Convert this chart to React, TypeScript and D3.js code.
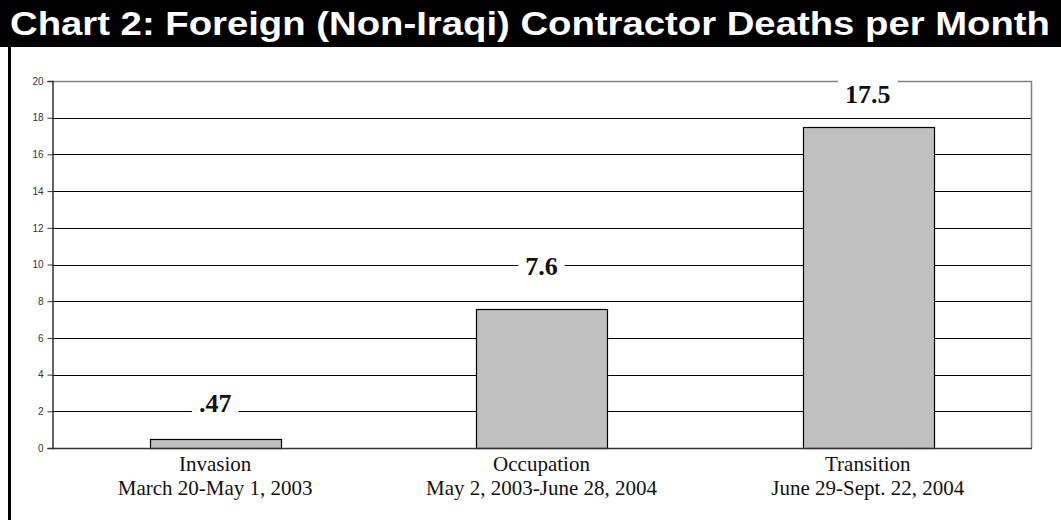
import React, { useEffect, useRef } from 'react';
import * as d3 from 'd3';

const title = 'Chart 2: Foreign (Non-Iraqi) Contractor Deaths per Month';
const categories = ['Invasion', 'Occupation', 'Transition'];
const periods = ['March 20-May 1, 2003', 'May 2, 2003-June 28, 2004', 'June 29-Sept. 22, 2004'];
const deathsPerMonth = [0.47, 7.6, 17.5];
const valueLabels = ['.47', '7.6', '17.5'];
// axis level (in deaths) where each value label's baseline sits in the picture
const labelLevels = [1.95, 9.45, 18.8];
const yTicks = [0, 2, 4, 6, 8, 10, 12, 14, 16, 18, 20];

export default function App() {
  const svgRef = useRef<SVGSVGElement>(null);

  useEffect(() => {
    if (!svgRef.current) return;
    const width = 1061;
    const height = 520;
    const margin = { top: 81, right: 30, bottom: 72, left: 52 };

    const svg = d3.select(svgRef.current);
    svg.selectAll('*').remove();
    svg.attr('width', width).attr('height', height).attr('viewBox', `0 0 ${width} ${height}`);

    svg.append('rect').attr('width', width).attr('height', height).attr('fill', 'white');

    // title band
    svg.append('rect').attr('x', 0).attr('y', 0).attr('width', width).attr('height', 47).attr('fill', 'black');
    svg.append('text')
      .attr('x', 10)
      .attr('y', 35)
      .attr('fill', 'white')
      .attr('font-family', '"Liberation Sans Narrow", "Liberation Sans", Arial, sans-serif')
      .attr('font-weight', 'bold')
      .attr('font-size', 33)
      .attr('textLength', 1040)
      .attr('lengthAdjust', 'spacingAndGlyphs')
      .text(title);

    // left frame line
    svg.append('rect').attr('x', 8).attr('y', 47).attr('width', 3).attr('height', height - 47).attr('fill', 'black');

    const x = d3.scaleBand<string>()
      .domain(categories)
      .range([margin.left, width - margin.right])
      .paddingInner(0.6)
      .paddingOuter(0.3);

    const y = d3.scaleLinear()
      .domain([0, 20])
      .range([height - margin.bottom, margin.top]);

    const x0 = margin.left;
    const x1 = width - margin.right;

    // gridlines
    svg.append('g')
      .selectAll('line')
      .data(yTicks.filter(t => t > 0 && t < 20))
      .join('line')
      .attr('x1', x0)
      .attr('x2', x1)
      .attr('y1', d => Math.round(y(d)) + 0.5)
      .attr('y2', d => Math.round(y(d)) + 0.5)
      .attr('stroke', 'black')
      .attr('stroke-width', 1);

    // plot border (top & right, gray)
    svg.append('path')
      .attr('d', `M${x0},${Math.round(y(20)) + 0.5}H${x1 + 0.5}V${Math.round(y(0))}`)
      .attr('fill', 'none')
      .attr('stroke', '#808080')
      .attr('stroke-width', 1.5);

    // bars
    svg.append('g')
      .selectAll('rect')
      .data(deathsPerMonth)
      .join('rect')
      .attr('x', (d, i) => Math.round(x(categories[i])!) + 0.5)
      .attr('y', d => Math.round(y(d)) + 0.5)
      .attr('width', Math.round(x.bandwidth()))
      .attr('height', d => Math.round(y(0)) - Math.round(y(d)))
      .attr('fill', '#c0c0c0')
      .attr('stroke', 'black')
      .attr('stroke-width', 1.2);

    // axes
    const yAxis = svg.append('g')
      .attr('transform', `translate(${x0 + 0.5},0)`)
      .call(d3.axisLeft(y).tickValues(yTicks).tickSize(5).tickPadding(4).tickFormat(d3.format('d')));
    yAxis.select('.domain').attr('stroke', '#333').attr('stroke-width', 1.5);
    yAxis.selectAll('.tick line').attr('stroke', '#333');
    yAxis.selectAll('.tick text')
      .attr('fill', '#333')
      .attr('font-family', '"Liberation Sans", Arial, sans-serif')
      .attr('font-size', 10);

    svg.append('line')
      .attr('x1', x0)
      .attr('x2', x1 + 1)
      .attr('y1', Math.round(y(0)) + 0.5)
      .attr('y2', Math.round(y(0)) + 0.5)
      .attr('stroke', '#333')
      .attr('stroke-width', 1.5);

    // category labels
    const cat = svg.append('g')
      .attr('font-family', '"Liberation Serif", "Times New Roman", serif')
      .attr('font-size', 21)
      .attr('text-anchor', 'middle')
      .attr('fill', '#111');
    categories.forEach((c, i) => {
      const cx = x(c)! + x.bandwidth() / 2;
      cat.append('text').attr('x', cx).attr('y', y(0) + 23).text(c);
      cat.append('text').attr('x', cx).attr('y', y(0) + 47).text(periods[i]);
    });

    // value labels with white knock-out box
    const labels = svg.append('g');
    valueLabels.forEach((lab, i) => {
      const cx = x(categories[i])! + x.bandwidth() / 2;
      const g = labels.append('g');
      const box = g.append('rect').attr('fill', 'white');
      const t = g.append('text')
        .attr('x', cx)
        .attr('y', y(labelLevels[i]))
        .attr('text-anchor', 'middle')
        .attr('font-family', '"Liberation Serif", "Times New Roman", serif')
        .attr('font-weight', 'bold')
        .attr('font-size', 26)
        .attr('fill', '#111')
        .text(lab);
      const bb = (t.node() as SVGTextElement).getBBox();
      box.attr('x', bb.x - 7)
        .attr('y', bb.y - 2)
        .attr('width', bb.width + 14)
        .attr('height', bb.height + 2);
    });
  }, []);

  return (
    <div style={{ position: 'absolute', left: 0, top: 0 }}>
      <svg ref={svgRef} style={{ display: 'block' }}></svg>
    </div>
  );
}
